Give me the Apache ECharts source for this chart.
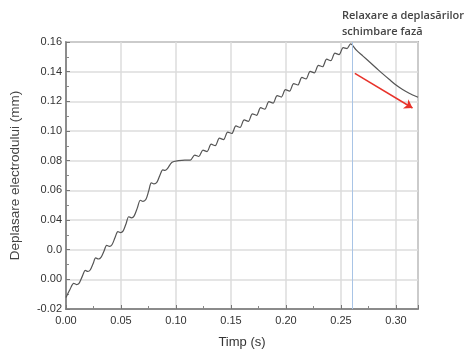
<!DOCTYPE html>
<html>
<head>
<meta charset="utf-8">
<script src="https://cdn.jsdelivr.net/npm/echarts@6/dist/echarts.min.js"></script>
<style>
  html, body { margin: 0; padding: 0; background: #fff; }
  #chart { width: 466px; height: 354px; }
</style>
</head>
<body>
<div id="chart"></div>
<script>
// time (s) and electrode displacement (mm)
const timeS = [
  0.0000, 0.0035, 0.0070, 0.0095, 0.0120, 0.0148, 0.0176, 0.0198, 0.0220, 0.0246,
  0.0270, 0.0295, 0.0318, 0.0345, 0.0370, 0.0395, 0.0418, 0.0445, 0.0472, 0.0496,
  0.0520, 0.0546, 0.0570, 0.0595, 0.0620, 0.0648, 0.0676, 0.0700, 0.0727, 0.0752,
  0.0776, 0.0800, 0.0827, 0.0853, 0.0880, 0.0900, 0.0920, 0.0964, 0.1024, 0.1080,
  0.1130, 0.1170, 0.1207, 0.1245, 0.1282, 0.1320, 0.1357, 0.1395, 0.1432, 0.1470,
  0.1507, 0.1545, 0.1582, 0.1620, 0.1657, 0.1695, 0.1732, 0.1770, 0.1807, 0.1845,
  0.1882, 0.1920, 0.1957, 0.1995, 0.2032, 0.2070, 0.2107, 0.2145, 0.2182, 0.2220,
  0.2257, 0.2295, 0.2332, 0.2370, 0.2407, 0.2445, 0.2482, 0.2520, 0.2555, 0.2587,
  0.2640, 0.2700, 0.2760, 0.2820, 0.2880, 0.2940, 0.3000, 0.3060, 0.3120, 0.3200
];
const dispMm = [
  -0.0122, -0.0070, -0.0027, -0.0035, -0.0025, 0.0020, 0.0060, 0.0053, 0.0063, 0.0105,
  0.0144, 0.0137, 0.0148, 0.0190, 0.0229, 0.0222, 0.0233, 0.0280, 0.0322, 0.0315,
  0.0327, 0.0375, 0.0422, 0.0415, 0.0428, 0.0480, 0.0533, 0.0526, 0.0540, 0.0596,
  0.0650, 0.0643, 0.0655, 0.0700, 0.0738, 0.0735, 0.0745, 0.0789, 0.0800, 0.0804,
  0.0803, 0.0838, 0.0828, 0.0871, 0.0861, 0.0911, 0.0901, 0.0952, 0.0942, 0.0993,
  0.0983, 0.1034, 0.1024, 0.1075, 0.1065, 0.1116, 0.1106, 0.1157, 0.1147, 0.1198,
  0.1188, 0.1239, 0.1229, 0.1279, 0.1269, 0.1320, 0.1310, 0.1361, 0.1351, 0.1402,
  0.1392, 0.1443, 0.1433, 0.1484, 0.1474, 0.1525, 0.1515, 0.1562, 0.1556, 0.1587,
  0.1545, 0.1505, 0.1465, 0.1425, 0.1385, 0.1347, 0.1310, 0.1280, 0.1255, 0.1228
];
// y tick labels as printed on the figure
const yTickLabels = ['-0.02', '0.00', '0.0', '0.04', '0.06', '0.08', '0.10', '0.12', '0.14', '0.16'];
const phaseChangeT = 0.2568;
const arrowFrom = [0.2626, 0.1389];
const arrowTo = [0.3150, 0.1155];

const chart = echarts.init(document.getElementById('chart'));

const axisText = { color: '#333', fontFamily: 'Liberation Sans', fontSize: 11 };

chart.setOption({
  animation: false,
  graphic: [
    {
      type: 'text', left: 342, top: 10,
      style: { text: 'Relaxare a deplasărilor', fill: '#444', font: '600 11px "Open Sans"' }
    },
    {
      type: 'text', left: 342, top: 26,
      style: { text: 'schimbare fază', fill: '#444', font: '600 11px "Open Sans"' }
    }
  ],
  grid: {
    left: 62, right: 48, top: 42, bottom: 42,
    show: true, borderColor: '#777', borderWidth: 1.5
  },
  xAxis: {
    type: 'value', min: 0, max: 0.32, interval: 0.05,
    name: 'Timp (s)', nameLocation: 'middle', nameGap: 27,
    nameTextStyle: { color: '#333', fontFamily: 'Liberation Sans', fontSize: 13 },
    axisLine: { onZero: false, lineStyle: { color: '#777', width: 1.5 } },
    axisTick: { inside: true, length: 4, lineStyle: { color: '#777' } },
    minorTick: { show: true, splitNumber: 2, length: 3, lineStyle: { color: '#888' } },
    splitLine: { show: true, lineStyle: { color: '#dcdcdc', width: 1.5 } },
    axisLabel: Object.assign({
      margin: 6,
      showMaxLabel: false,
      formatter: v => (Math.abs(v / 0.05 - Math.round(v / 0.05)) < 1e-6 ? v.toFixed(2) : '')
    }, axisText)
  },
  yAxis: {
    type: 'value', min: -0.02, max: 0.16, interval: 0.02,
    name: 'Deplasare electrodului (mm)', nameLocation: 'middle', nameGap: 44,
    nameTextStyle: { color: '#444', fontFamily: 'Liberation Sans', fontSize: 13.5 },
    axisLine: { show: true, onZero: false, lineStyle: { color: '#777', width: 1.5 } },
    axisTick: { inside: true, length: 4, lineStyle: { color: '#777' } },
    minorTick: { show: true, splitNumber: 2, length: 3, lineStyle: { color: '#888' } },
    splitLine: { show: true, lineStyle: { color: '#dcdcdc', width: 1.5 } },
    axisLabel: Object.assign({
      margin: 4,
      formatter: v => yTickLabels[Math.round((v + 0.02) / 0.02)]
    }, axisText)
  },
  series: [
    {
      type: 'line',
      data: timeS.map((t, i) => [t, dispMm[i]]),
      symbol: 'none',
      smooth: 0.3,
      lineStyle: { color: '#555', width: 1.2 },
      markLine: {
        silent: true, symbol: 'none', label: { show: false },
        lineStyle: { color: '#a8c4e6', width: 1, type: 'solid' },
        data: [{ xAxis: phaseChangeT }]
      },
      z: 3
    },
    {
      type: 'line',
      data: [],
      markLine: {
        silent: true,
        symbol: ['none', 'arrow'], symbolSize: 8,
        label: { show: false },
        lineStyle: { color: '#e8322a', width: 1.5, type: 'solid' },
        data: [[{ coord: arrowFrom }, { coord: arrowTo }]]
      }
    }
  ]
});
</script>
</body>
</html>
